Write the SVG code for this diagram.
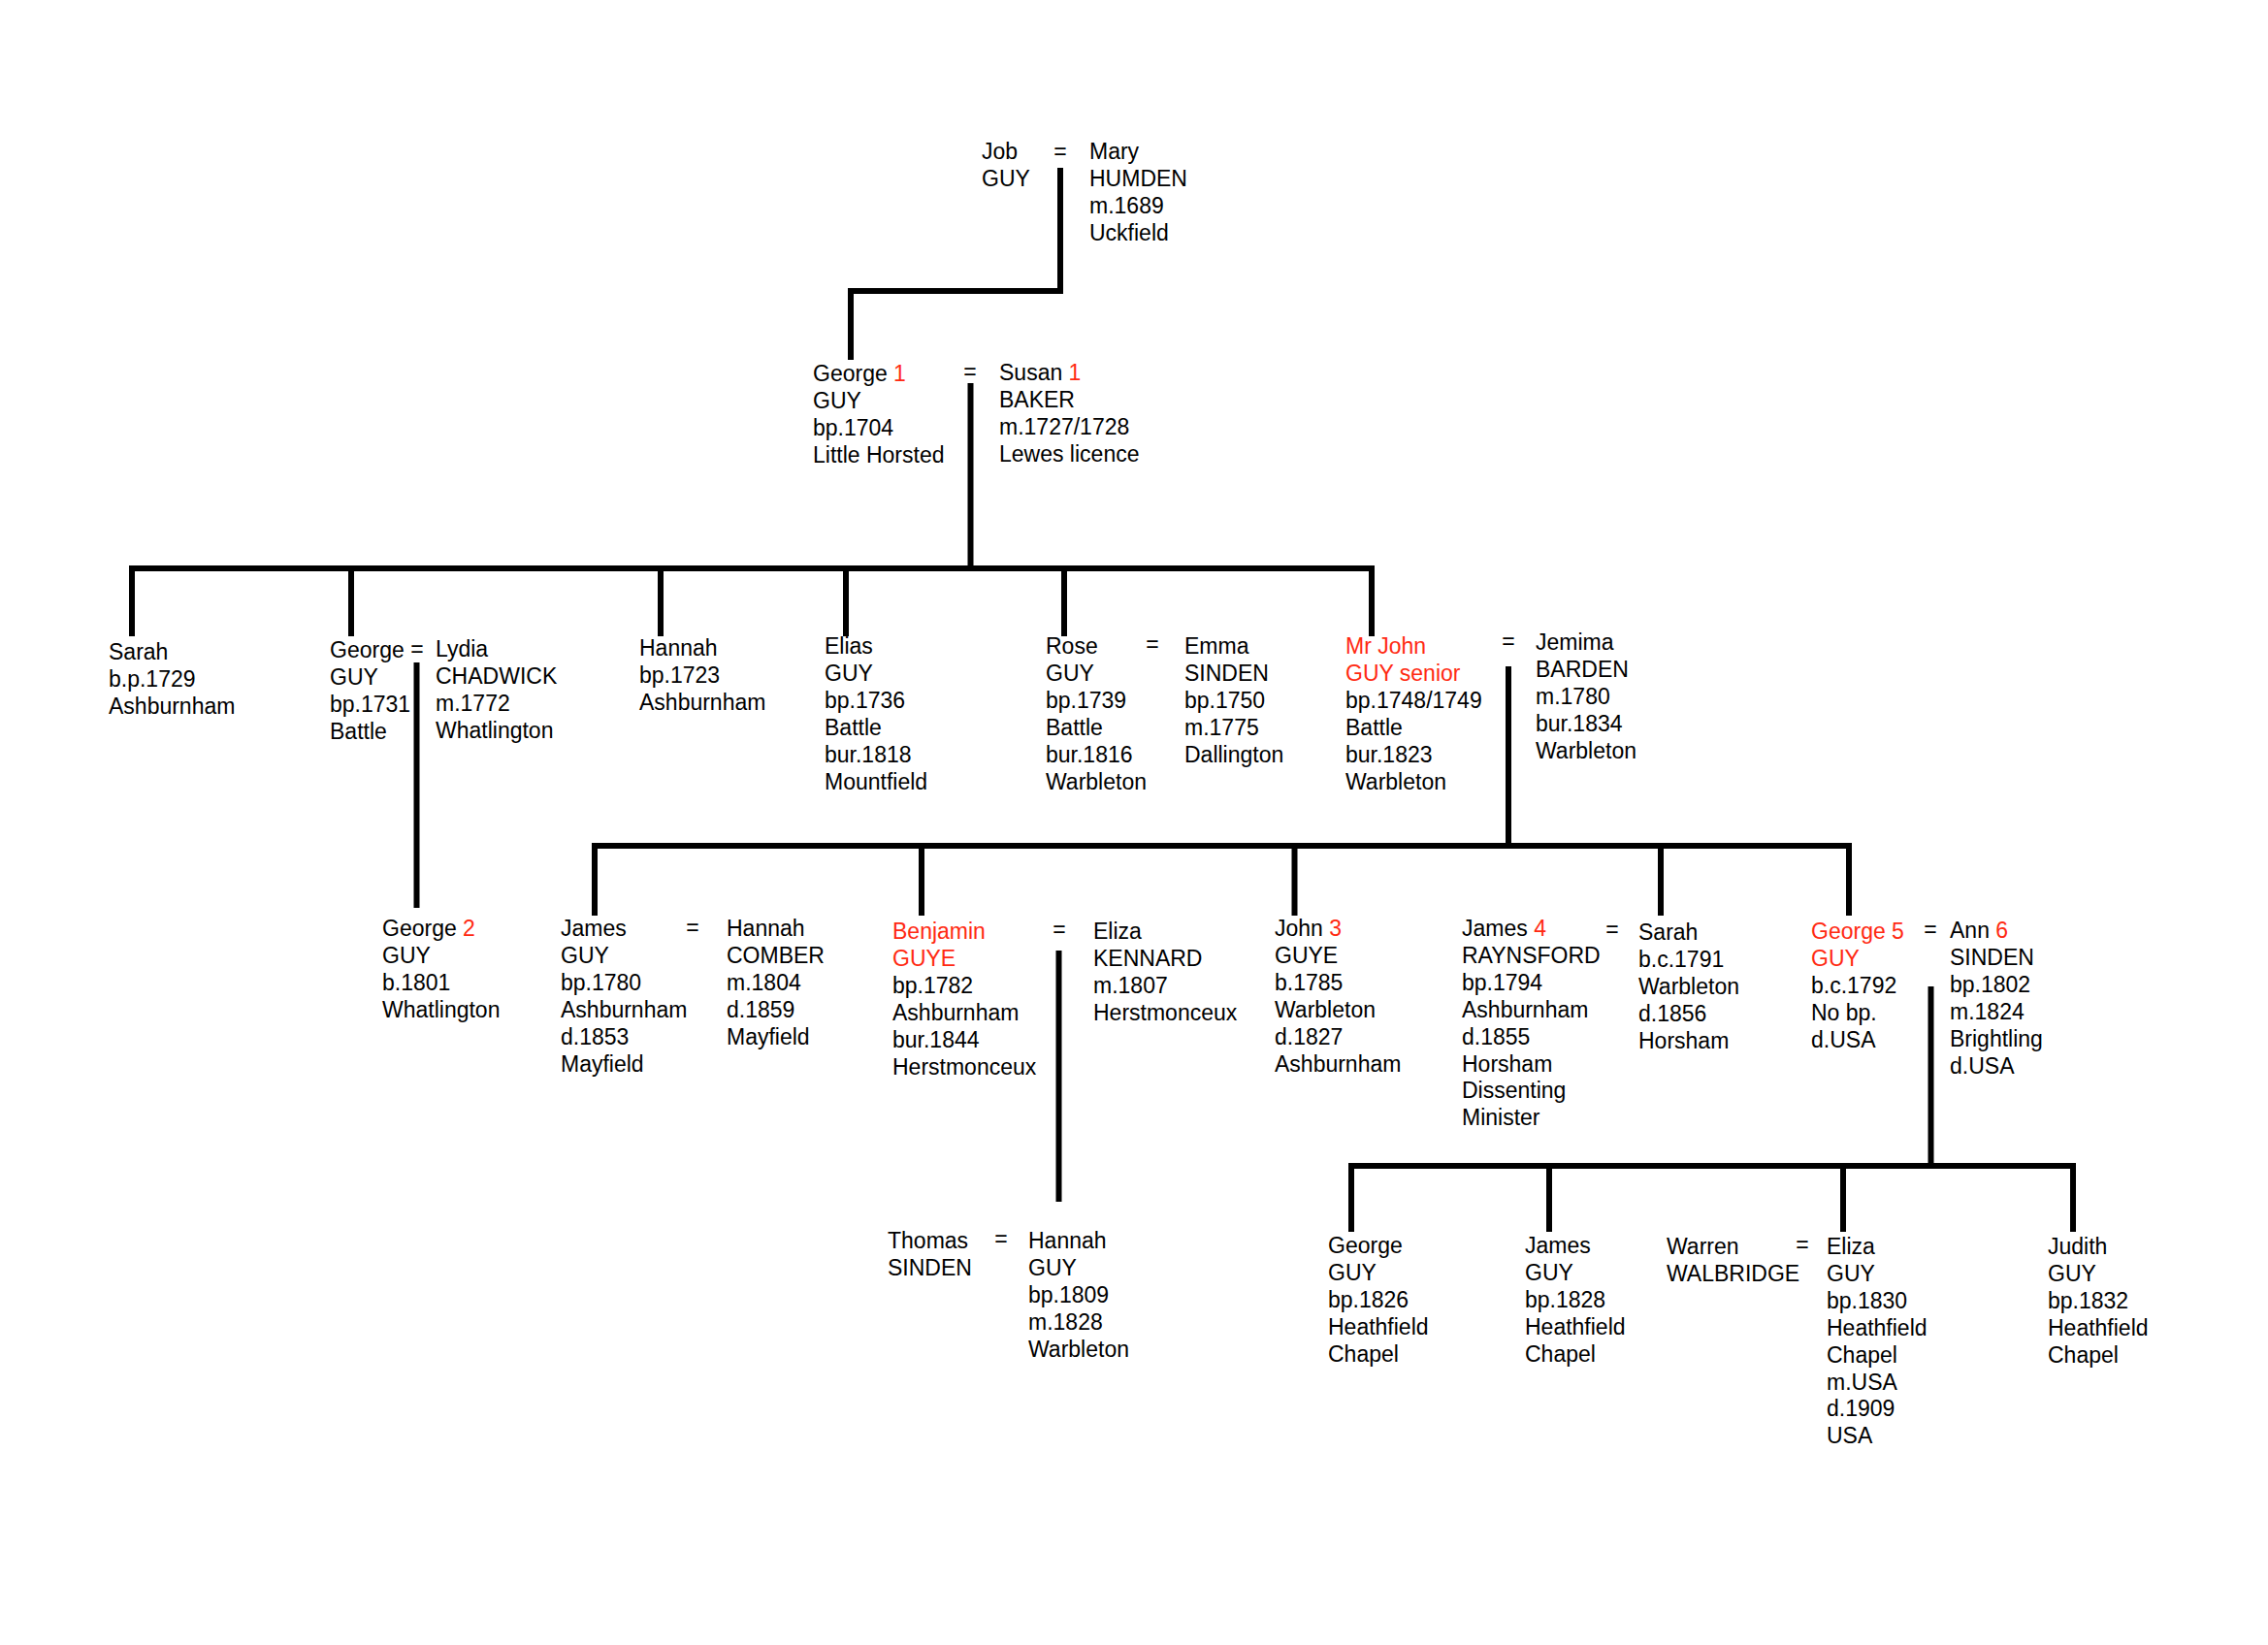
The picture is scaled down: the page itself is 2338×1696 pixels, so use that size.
<svg xmlns="http://www.w3.org/2000/svg" width="2338" height="1696" viewBox="0 0 2338 1696">
<style>
text{font-family:"Liberation Sans",Arial,sans-serif;font-size:23px;fill:#000}
.r{fill:#ff2a12}
.eq{text-anchor:middle}
#connectors path{fill:none;stroke:#000;stroke-width:6;stroke-linejoin:miter;stroke-linecap:butt}
</style>
<rect width="2338" height="1696" fill="#fff"/>
<g id="connectors">
<path d="M1093 173V300H877V371"/>
<path d="M1000.5 395V586"/>
<path d="M136 656V586H1414V656"/>
<path d="M362 586V656M681 586V656M872 586V656M1097 586V656"/>
<path d="M429.5 683V936"/>
<path d="M1555 687V872"/>
<path d="M613 944V872H1906V944"/>
<path d="M950 872V944M1334.5 872V944M1712 872V944"/>
<path d="M1091.5 980V1239"/>
<path d="M1990.5 1017V1202"/>
<path d="M1393 1270V1202H2137V1270"/>
<path d="M1597 1199V1270M1900 1199V1270"/>
</g>
<g id="marriages">
<text class="eq" x="1093" y="164">=</text>
<text class="eq" x="1000" y="391">=</text>
<text class="eq" x="430" y="677">=</text>
<text class="eq" x="1188" y="672">=</text>
<text class="eq" x="1555" y="669">=</text>
<text class="eq" x="714" y="964">=</text>
<text class="eq" x="1092" y="966">=</text>
<text class="eq" x="1662" y="966">=</text>
<text class="eq" x="1990" y="966">=</text>
<text class="eq" x="1032" y="1285">=</text>
<text class="eq" x="1858" y="1291">=</text>
</g>
<g id="job-guy"><text x="1012" y="164"><tspan x="1012">Job</tspan><tspan x="1012" dy="27.9">GUY</tspan></text></g>
<g id="mary-humden"><text x="1123" y="164"><tspan x="1123">Mary</tspan><tspan x="1123" dy="27.9">HUMDEN</tspan><tspan x="1123" dy="27.9">m.1689</tspan><tspan x="1123" dy="27.9">Uckfield</tspan></text></g>
<g id="george1"><text x="838" y="393"><tspan x="838">George <tspan class="r">1</tspan></tspan><tspan x="838" dy="27.9">GUY</tspan><tspan x="838" dy="27.9">bp.1704</tspan><tspan x="838" dy="27.9">Little Horsted</tspan></text></g>
<g id="susan1"><text x="1030" y="392"><tspan x="1030">Susan <tspan class="r">1</tspan></tspan><tspan x="1030" dy="27.9">BAKER</tspan><tspan x="1030" dy="27.9">m.1727/1728</tspan><tspan x="1030" dy="27.9">Lewes licence</tspan></text></g>
<g id="sarah-a"><text x="112" y="680"><tspan x="112">Sarah</tspan><tspan x="112" dy="27.9">b.p.1729</tspan><tspan x="112" dy="27.9">Ashburnham</tspan></text></g>
<g id="george-b"><text x="340" y="678"><tspan x="340">George</tspan><tspan x="340" dy="27.9">GUY</tspan><tspan x="340" dy="27.9">bp.1731</tspan><tspan x="340" dy="27.9">Battle</tspan></text></g>
<g id="lydia"><text x="449" y="677"><tspan x="449">Lydia</tspan><tspan x="449" dy="27.9">CHADWICK</tspan><tspan x="449" dy="27.9">m.1772</tspan><tspan x="449" dy="27.9">Whatlington</tspan></text></g>
<g id="hannah-a"><text x="659" y="676"><tspan x="659">Hannah</tspan><tspan x="659" dy="27.9">bp.1723</tspan><tspan x="659" dy="27.9">Ashburnham</tspan></text></g>
<g id="elias"><text x="850" y="674"><tspan x="850">Elias</tspan><tspan x="850" dy="27.9">GUY</tspan><tspan x="850" dy="27.9">bp.1736</tspan><tspan x="850" dy="27.9">Battle</tspan><tspan x="850" dy="27.9">bur.1818</tspan><tspan x="850" dy="27.9">Mountfield</tspan></text></g>
<g id="rose"><text x="1078" y="674"><tspan x="1078">Rose</tspan><tspan x="1078" dy="27.9">GUY</tspan><tspan x="1078" dy="27.9">bp.1739</tspan><tspan x="1078" dy="27.9">Battle</tspan><tspan x="1078" dy="27.9">bur.1816</tspan><tspan x="1078" dy="27.9">Warbleton</tspan></text></g>
<g id="emma"><text x="1221" y="674"><tspan x="1221">Emma</tspan><tspan x="1221" dy="27.9">SINDEN</tspan><tspan x="1221" dy="27.9">bp.1750</tspan><tspan x="1221" dy="27.9">m.1775</tspan><tspan x="1221" dy="27.9">Dallington</tspan></text></g>
<g id="mr-john"><text x="1387" y="674"><tspan x="1387" class="r">Mr John</tspan><tspan x="1387" dy="27.9" class="r">GUY senior</tspan><tspan x="1387" dy="27.9">bp.1748/1749</tspan><tspan x="1387" dy="27.9">Battle</tspan><tspan x="1387" dy="27.9">bur.1823</tspan><tspan x="1387" dy="27.9">Warbleton</tspan></text></g>
<g id="jemima"><text x="1583" y="670"><tspan x="1583">Jemima</tspan><tspan x="1583" dy="27.9">BARDEN</tspan><tspan x="1583" dy="27.9">m.1780</tspan><tspan x="1583" dy="27.9">bur.1834</tspan><tspan x="1583" dy="27.9">Warbleton</tspan></text></g>
<g id="george2"><text x="394" y="965"><tspan x="394">George <tspan class="r">2</tspan></tspan><tspan x="394" dy="27.9">GUY</tspan><tspan x="394" dy="27.9">b.1801</tspan><tspan x="394" dy="27.9">Whatlington</tspan></text></g>
<g id="james-a"><text x="578" y="965"><tspan x="578">James</tspan><tspan x="578" dy="27.9">GUY</tspan><tspan x="578" dy="27.9">bp.1780</tspan><tspan x="578" dy="27.9">Ashburnham</tspan><tspan x="578" dy="27.9">d.1853</tspan><tspan x="578" dy="27.9">Mayfield</tspan></text></g>
<g id="hannah-b"><text x="749" y="965"><tspan x="749">Hannah</tspan><tspan x="749" dy="27.9">COMBER</tspan><tspan x="749" dy="27.9">m.1804</tspan><tspan x="749" dy="27.9">d.1859</tspan><tspan x="749" dy="27.9">Mayfield</tspan></text></g>
<g id="benjamin"><text x="920" y="968"><tspan x="920" class="r">Benjamin</tspan><tspan x="920" dy="27.9" class="r">GUYE</tspan><tspan x="920" dy="27.9">bp.1782</tspan><tspan x="920" dy="27.9">Ashburnham</tspan><tspan x="920" dy="27.9">bur.1844</tspan><tspan x="920" dy="27.9">Herstmonceux</tspan></text></g>
<g id="eliza-a"><text x="1127" y="968"><tspan x="1127">Eliza</tspan><tspan x="1127" dy="27.9">KENNARD</tspan><tspan x="1127" dy="27.9">m.1807</tspan><tspan x="1127" dy="27.9">Herstmonceux</tspan></text></g>
<g id="john3"><text x="1314" y="965"><tspan x="1314">John <tspan class="r">3</tspan></tspan><tspan x="1314" dy="27.9">GUYE</tspan><tspan x="1314" dy="27.9">b.1785</tspan><tspan x="1314" dy="27.9">Warbleton</tspan><tspan x="1314" dy="27.9">d.1827</tspan><tspan x="1314" dy="27.9">Ashburnham</tspan></text></g>
<g id="james4"><text x="1507" y="965"><tspan x="1507">James <tspan class="r">4</tspan></tspan><tspan x="1507" dy="27.9">RAYNSFORD</tspan><tspan x="1507" dy="27.9">bp.1794</tspan><tspan x="1507" dy="27.9">Ashburnham</tspan><tspan x="1507" dy="27.9">d.1855</tspan><tspan x="1507" dy="27.9">Horsham</tspan><tspan x="1507" dy="27.9">Dissenting</tspan><tspan x="1507" dy="27.9">Minister</tspan></text></g>
<g id="sarah-b"><text x="1689" y="969"><tspan x="1689">Sarah</tspan><tspan x="1689" dy="27.9">b.c.1791</tspan><tspan x="1689" dy="27.9">Warbleton</tspan><tspan x="1689" dy="27.9">d.1856</tspan><tspan x="1689" dy="27.9">Horsham</tspan></text></g>
<g id="george5"><text x="1867" y="968"><tspan x="1867" class="r">George 5</tspan><tspan x="1867" dy="27.9" class="r">GUY</tspan><tspan x="1867" dy="27.9">b.c.1792</tspan><tspan x="1867" dy="27.9">No bp.</tspan><tspan x="1867" dy="27.9">d.USA</tspan></text></g>
<g id="ann6"><text x="2010" y="967"><tspan x="2010">Ann <tspan class="r">6</tspan></tspan><tspan x="2010" dy="27.9">SINDEN</tspan><tspan x="2010" dy="27.9">bp.1802</tspan><tspan x="2010" dy="27.9">m.1824</tspan><tspan x="2010" dy="27.9">Brightling</tspan><tspan x="2010" dy="27.9">d.USA</tspan></text></g>
<g id="thomas"><text x="915" y="1287"><tspan x="915">Thomas</tspan><tspan x="915" dy="27.9">SINDEN</tspan></text></g>
<g id="hannah-c"><text x="1060" y="1287"><tspan x="1060">Hannah</tspan><tspan x="1060" dy="27.9">GUY</tspan><tspan x="1060" dy="27.9">bp.1809</tspan><tspan x="1060" dy="27.9">m.1828</tspan><tspan x="1060" dy="27.9">Warbleton</tspan></text></g>
<g id="george-c"><text x="1369" y="1292"><tspan x="1369">George</tspan><tspan x="1369" dy="27.9">GUY</tspan><tspan x="1369" dy="27.9">bp.1826</tspan><tspan x="1369" dy="27.9">Heathfield</tspan><tspan x="1369" dy="27.9">Chapel</tspan></text></g>
<g id="james-c"><text x="1572" y="1292"><tspan x="1572">James</tspan><tspan x="1572" dy="27.9">GUY</tspan><tspan x="1572" dy="27.9">bp.1828</tspan><tspan x="1572" dy="27.9">Heathfield</tspan><tspan x="1572" dy="27.9">Chapel</tspan></text></g>
<g id="warren"><text x="1718" y="1293"><tspan x="1718">Warren</tspan><tspan x="1718" dy="27.9">WALBRIDGE</tspan></text></g>
<g id="eliza-b"><text x="1883" y="1293"><tspan x="1883">Eliza</tspan><tspan x="1883" dy="27.9">GUY</tspan><tspan x="1883" dy="27.9">bp.1830</tspan><tspan x="1883" dy="27.9">Heathfield</tspan><tspan x="1883" dy="27.9">Chapel</tspan><tspan x="1883" dy="27.9">m.USA</tspan><tspan x="1883" dy="27.9">d.1909</tspan><tspan x="1883" dy="27.9">USA</tspan></text></g>
<g id="judith"><text x="2111" y="1293"><tspan x="2111">Judith</tspan><tspan x="2111" dy="27.9">GUY</tspan><tspan x="2111" dy="27.9">bp.1832</tspan><tspan x="2111" dy="27.9">Heathfield</tspan><tspan x="2111" dy="27.9">Chapel</tspan></text></g>
</svg>
